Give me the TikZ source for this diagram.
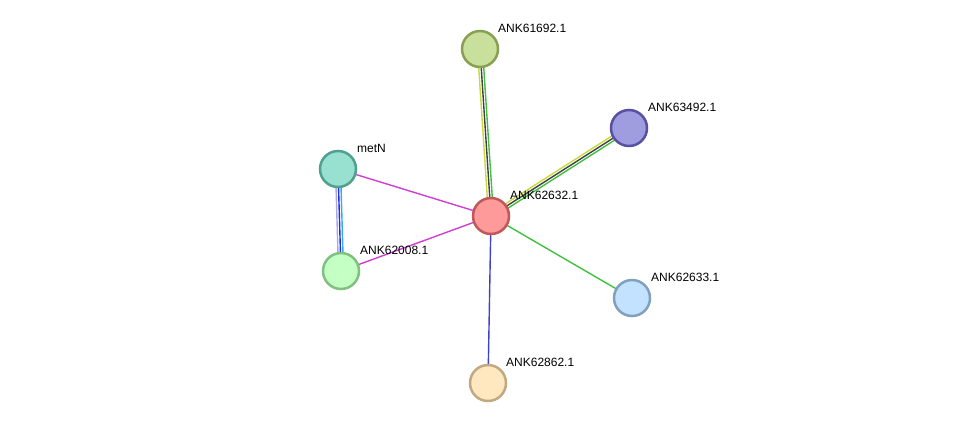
\documentclass[tikz,border=0pt]{standalone}
\usepackage{fontspec}
\setmainfont{Liberation Sans}
\usetikzlibrary{calc}
\pgfdeclarelayer{background}
\pgfsetlayers{background,main}
\definecolor{cfill}{HTML}{FF9A9A}\definecolor{cdraw}{HTML}{C05858}
\definecolor{afill}{HTML}{C8E09C}\definecolor{adraw}{HTML}{88A050}
\definecolor{bfill}{HTML}{A09CE0}\definecolor{bdraw}{HTML}{5850A0}
\definecolor{mfill}{HTML}{98E0D0}\definecolor{mdraw}{HTML}{50A090}
\definecolor{dfill}{HTML}{C4FFC4}\definecolor{ddraw}{HTML}{80C080}
\definecolor{efill}{HTML}{C2E2FF}\definecolor{edraw}{HTML}{80A0C0}
\definecolor{ffill}{HTML}{FFE8C0}\definecolor{fdraw}{HTML}{C0A880}
\definecolor{eyellow}{HTML}{C8D840}\definecolor{edark}{HTML}{404040}
\definecolor{egreen}{HTML}{40C040}\definecolor{emag}{HTML}{D040D0}
\definecolor{eblue}{HTML}{4040D0}\definecolor{elav}{HTML}{A8A8F0}
\definecolor{ebl}{HTML}{2828E8}\definecolor{ecyan}{HTML}{30B0E0}
\tikzset{
  prot/.style={circle,minimum size=36pt,inner sep=0pt,line width=2.5pt},
  lab/.style={anchor=base west,inner sep=0pt,font=\fontsize{12pt}{14pt}\selectfont},
  edge/.style={line width=1.4pt}
}
\begin{document}
\begin{tikzpicture}[x=1pt,y=-1pt]
\useasboundingbox (0,0) rectangle (976,429);
\node[prot,fill=cfill,draw=cdraw] (c) at (491,216) {};
\node[prot,fill=afill,draw=adraw] (a) at (480,49) {};
\node[prot,fill=bfill,draw=bdraw] (b) at (629,128) {};
\node[prot,fill=mfill,draw=mdraw] (m) at (338,169) {};
\node[prot,fill=dfill,draw=ddraw] (d) at (341,271) {};
\node[prot,fill=efill,draw=edraw] (e) at (632,298) {};
\node[prot,fill=ffill,draw=fdraw] (f) at (488,383) {};
\node[lab] (lc) at (510,199) {ANK62632.1};
\node[lab] (la) at (498,32) {ANK61692.1};
\node[lab] (lb) at (648,111) {ANK63492.1};
\node[lab] (lm) at (357,152) {metN};
\node[lab] (ld) at (360,254) {ANK62008.1};
\node[lab] (le) at (651,281) {ANK62633.1};
\node[lab] (lf) at (506,366) {ANK62862.1};
\begin{pgfonlayer}{background}
\draw[edge,eyellow] ($(c.center)!2.5pt!90:(a.center)$) -- ($(a.center)!2.5pt!-90:(c.center)$);
\draw[edge,edark] (c.center) -- (a.center);
\draw[edge,egreen] ($(c.center)!2.5pt!-90:(a.center)$) -- ($(a.center)!2.5pt!90:(c.center)$);
\draw[edge,eyellow] ($(c.center)!2.5pt!90:(b.center)$) -- ($(b.center)!2.5pt!-90:(c.center)$);
\draw[edge,edark] (c.center) -- (b.center);
\draw[edge,egreen] ($(c.center)!2.5pt!-90:(b.center)$) -- ($(b.center)!2.5pt!90:(c.center)$);
\draw[edge,elav] ($(d.center)!2.5pt!90:(m.center)$) -- ($(m.center)!2.5pt!-90:(d.center)$);
\draw[edge,ebl] (d.center) -- (m.center);
\draw[edge,ecyan] ($(d.center)!2.5pt!-90:(m.center)$) -- ($(m.center)!2.5pt!90:(d.center)$);
\draw[edge,emag] (c.center) -- (m.center);
\draw[edge,emag] (c.center) -- (d.center);
\draw[edge,egreen] (c.center) -- (e.center);
\draw[edge,eblue] (c.center) -- (f.center);
\end{pgfonlayer}
\end{tikzpicture}
\end{document}
